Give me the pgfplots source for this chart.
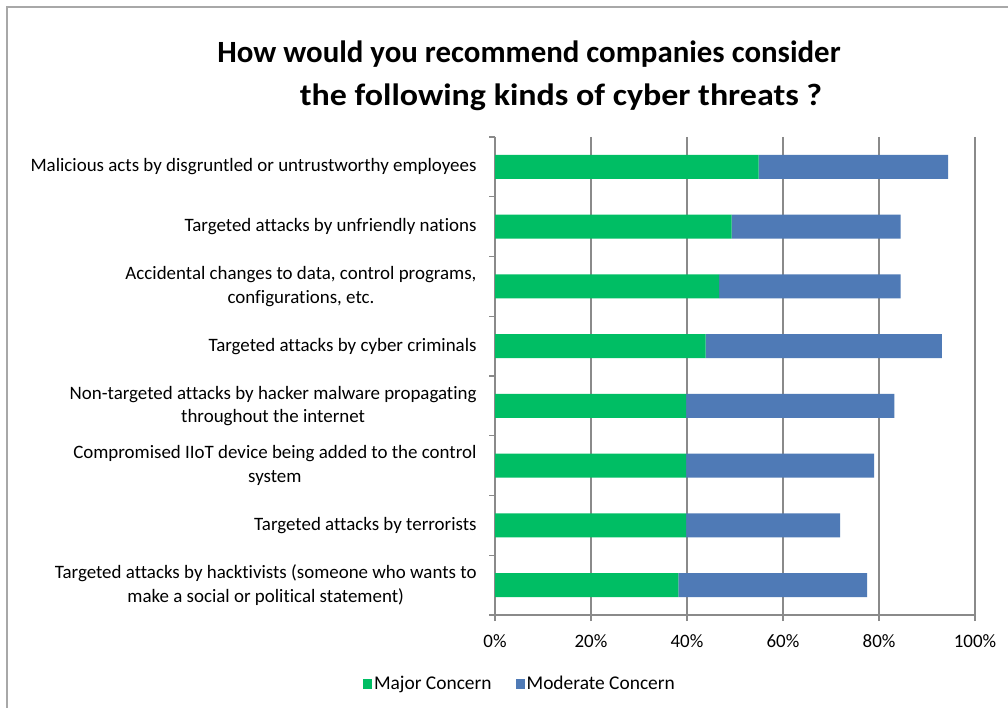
\documentclass[border=0pt]{standalone}
\usepackage{pgfplots}
\pgfplotsset{compat=1.18}
\usepackage{fontspec}
\setmainfont{Carlito}[Ligatures=NoCommon]
\definecolor{major}{HTML}{00BE64}
\definecolor{moderate}{HTML}{4F7AB6}
\definecolor{gridc}{HTML}{8A8A8A}
\definecolor{framec}{HTML}{A8A8A8}
\begin{document}
\begin{tikzpicture}[x=1bp,y=1bp]
\useasboundingbox (0,0) rectangle (1008,708);
\fill[white] (0,0) rectangle (1008,708);
\draw[framec, line width=1.8bp] (7,-20) -- (7,701) -- (1030,701);
\node[font=\bfseries\fontsize{31}{34}\selectfont, anchor=base] at (529,645) {How would you recommend companies consider};
\node[font=\bfseries\fontsize{31}{34}\selectfont, anchor=base] at (561,602) {\scalebox{1.1}[1]{the following kinds of cyber threats ?}};
\begin{axis}[
  at={(495bp,93bp)}, anchor=south west,
  width=480bp, height=478bp, scale only axis,
  xbar stacked,
  bar width=0.4,
  xmin=0, xmax=100,
  ymin=-0.5, ymax=7.5,
  y dir=reverse,
  axis x line*=bottom, axis y line*=left,
  axis line style={gridc, line width=1.2bp, -},
  xtick={0,20,...,100},
  xticklabel={\pgfmathprintnumber{\tick}\%},
  xmajorgrids,
  major grid style={gridc, line width=1.2bp},
  ytick={0,...,7},
  major y tick style={draw=none},
  minor ytick={-0.5,0.5,...,7.5},
  minor tick style={gridc, line width=1.2bp},
  minor tick length=6bp,
  major tick length=6bp,
  x tick style={gridc, line width=1.2bp},
  tick align=outside,
  yticklabels={
    {Malicious acts by disgruntled or untrustworthy employees},
    {Targeted attacks by unfriendly nations},
    {Accidental changes to data, control programs,\\configurations, etc.},
    {Targeted attacks by cyber criminals},
    {Non-targeted attacks by hacker malware propagating\\throughout the internet},
    {Compromised IIoT device being added to the control\\system},
    {Targeted attacks by terrorists},
    {Targeted attacks by hacktivists (someone who wants to\\make a social or political statement)}
  },
  yticklabel style={align=center, font=\fontsize{19}{23.5}\selectfont, xshift=-9bp},
  xticklabel style={font=\fontsize{19}{22}\selectfont, yshift=-10bp},
  /pgf/number format/assume math mode=true,
  legend style={at={(0.052,-0.144)}, anchor=center, draw=none, legend columns=2,
    font=\fontsize{19.5}{22}\selectfont, /tikz/every even column/.append style={column sep=22bp},
    inner sep=0pt},
  legend image code/.code={\fill[#1] (1bp,-5bp) rectangle (10bp,5bp);},
]
\addplot[fill=major, draw=none] coordinates {
(54.9,0) (49.3,1) (46.7,2) (43.9,3) (39.8,4) (39.8,5) (39.8,6) (38.2,7)};
\addplot[fill=moderate, draw=none] coordinates {
(39.5,0) (35.2,1) (37.8,2) (49.2,3) (43.4,4) (39.2,5) (32.1,6) (39.3,7)};
\legend{Major Concern, Moderate Concern}
\end{axis}
\end{tikzpicture}
\end{document}
